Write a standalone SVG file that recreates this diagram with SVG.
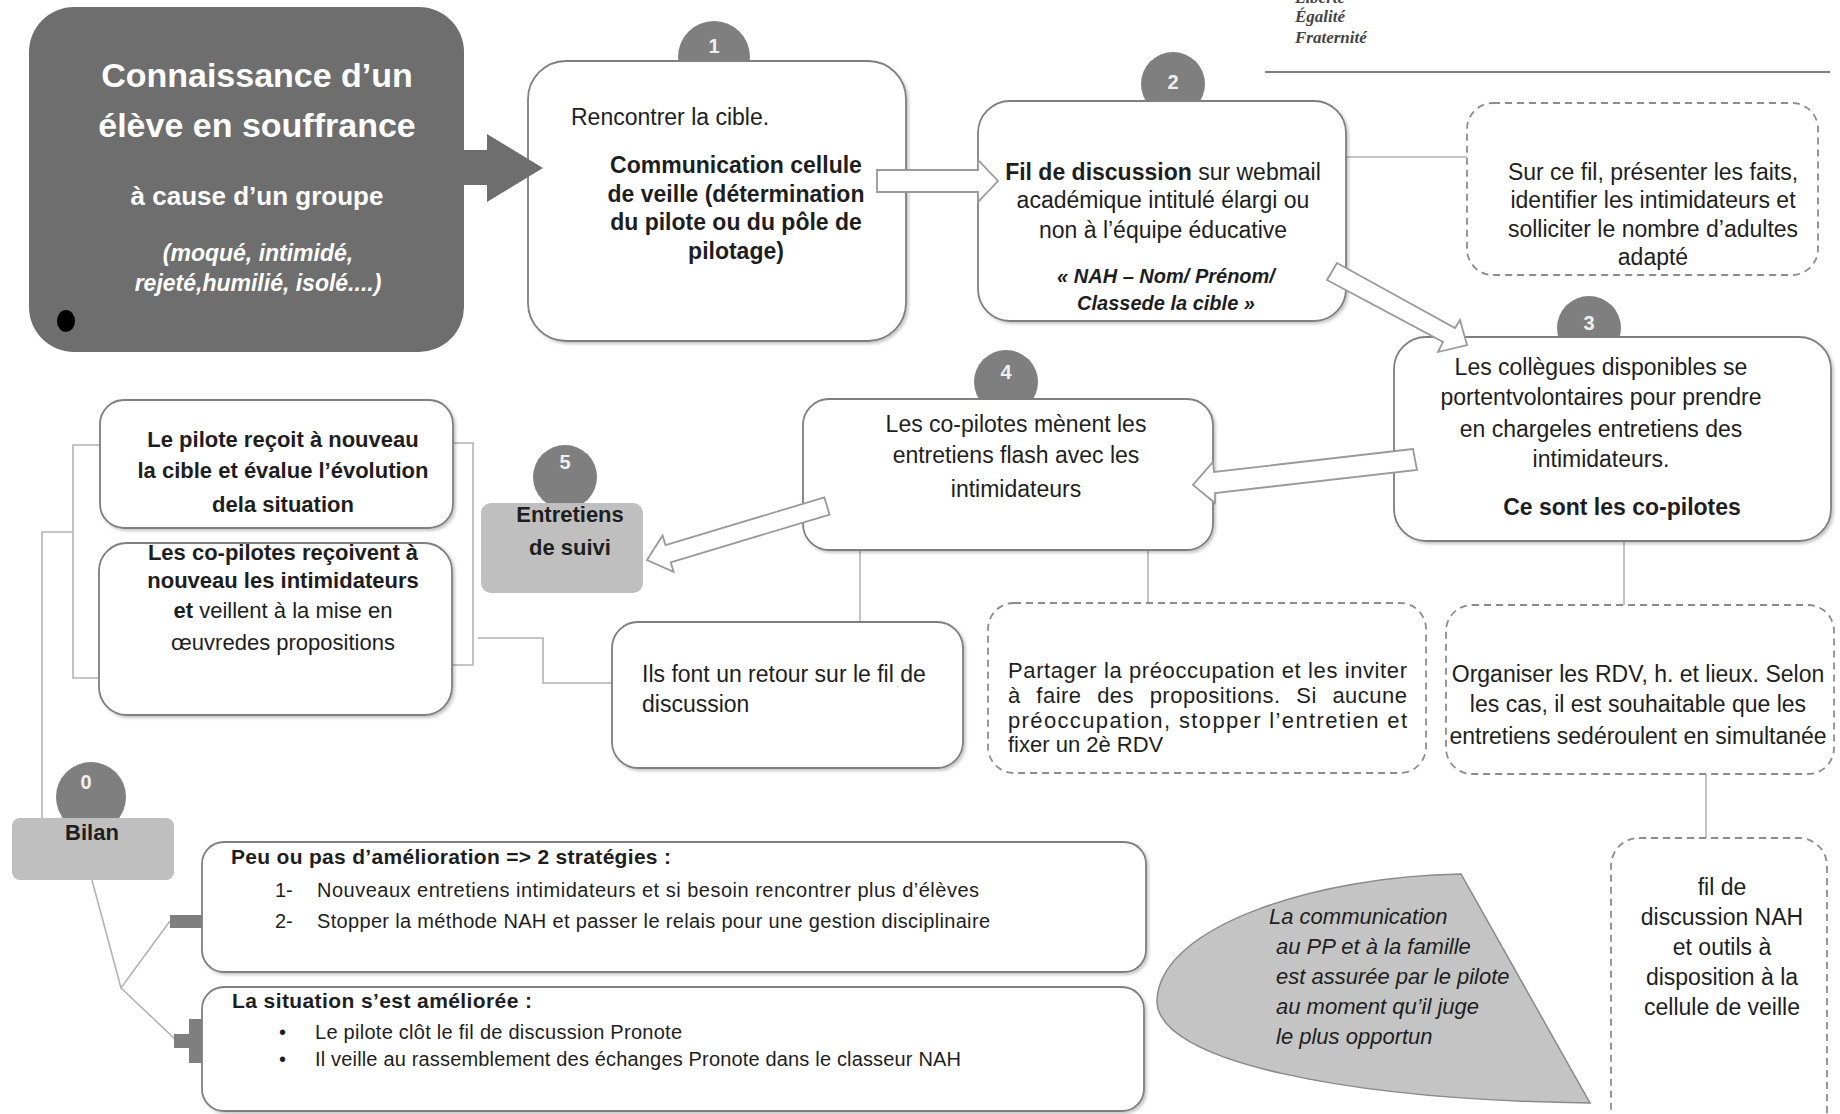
<svg xmlns="http://www.w3.org/2000/svg" width="1840" height="1114" viewBox="0 0 1840 1114">
<defs>
<style>
.t{font-family:"Liberation Sans",Arial,sans-serif;fill:#1e1e1e;font-size:23px}
.m{text-anchor:middle}
.b{font-weight:bold}
.i{font-style:italic}
.w{fill:#ffffff}
.box{fill:#ffffff;stroke:#7f7f7f;stroke-width:1.8}
.dash{fill:#ffffff;stroke:#8c8c8c;stroke-width:1.8;stroke-dasharray:7 5}
.grey{fill:#bfbfbf}
.num{fill:#7f7f7f}
.nt{font-family:"Liberation Sans",Arial,sans-serif;font-size:20px;font-weight:bold;fill:#f0f0f0;text-anchor:middle}
.ln{fill:none;stroke:#b3b3b3;stroke-width:1.6}
.arr{fill:#ffffff;stroke:#9a9a9a;stroke-width:1.8;stroke-linejoin:miter}
.logo{font-family:"Liberation Serif","Times New Roman",serif;font-style:italic;font-weight:bold;font-size:17px;fill:#444444}
</style>
<filter id="sh" x="-5%" y="-5%" width="115%" height="115%">
<feDropShadow dx="2" dy="2" stdDeviation="1.5" flood-color="#000000" flood-opacity="0.22"/>
</filter>
</defs>
<rect width="1840" height="1114" fill="#ffffff"/>

<g id="logo">
<text class="logo" x="1295" y="3">Liberté</text>
<text class="logo" x="1295" y="22">Égalité</text>
<text class="logo" x="1295" y="43">Fraternité</text>
<line x1="1265" y1="72" x2="1830" y2="72" stroke="#555555" stroke-width="1.6"/>
</g>

<g id="connectors">
<line class="ln" x1="1346" y1="157" x2="1467" y2="157"/>
<line class="ln" x1="1624" y1="541" x2="1624" y2="605"/>
<line class="ln" x1="1148" y1="550" x2="1148" y2="603"/>
<line class="ln" x1="860" y1="550" x2="860" y2="622"/>
<line class="ln" x1="1706" y1="774" x2="1706" y2="838"/>
<path class="ln" d="M478,638 H543 V683 H612"/>
<path class="ln" d="M453,443 H473 V665 H452"/>
<path class="ln" d="M100,445 H73 V678 H102"/>
<path class="ln" d="M42,818 V532 H73"/>
<path class="ln" d="M92,880 L121,988 L170,921 M121,988 L176,1040"/>
</g>

<g id="node-start">
<rect x="29" y="7" width="435" height="345" rx="45" fill="#6e6e6e"/>
<text class="t b m w" x="257" y="87" style="font-size:34px">Connaissance d’un</text>
<text class="t b m w" x="257" y="137" style="font-size:34px">élève en souffrance</text>
<text class="t b m w" x="257" y="205" style="font-size:26px">à cause d’un groupe</text>
<text class="t b i m w" x="258" y="261" style="font-size:23px">(moqué, intimidé,</text>
<text class="t b i m w" x="258" y="291" style="font-size:23px">rejeté,humilié, isolé....)</text>
<ellipse cx="66" cy="321" rx="9" ry="11" fill="#000000"/>
</g>

<g id="node-1">
<circle class="num" cx="714" cy="57" r="36"/>
<text class="nt" x="714" y="53">1</text>
<rect class="box" x="528" y="61" width="378" height="280" rx="38" filter="url(#sh)"/>
<text class="t" x="571" y="125">Rencontrer la cible.</text>
<text class="t b m" x="736" y="173">Communication cellule</text>
<text class="t b m" x="736" y="202">de veille (détermination</text>
<text class="t b m" x="736" y="230">du pilote ou du pôle de</text>
<text class="t b m" x="736" y="259">pilotage)</text>
</g>

<g id="node-2">
<circle class="num" cx="1173" cy="84" r="32"/>
<text class="nt" x="1173" y="89">2</text>
<rect class="box" x="978" y="101" width="368" height="220" rx="32" filter="url(#sh)"/>
<text class="t m" x="1163" y="180"><tspan font-weight="bold">Fil de discussion</tspan> sur webmail</text>
<text class="t m" x="1163" y="208">académique intitulé élargi ou</text>
<text class="t m" x="1163" y="238">non à l’équipe éducative</text>
<text class="t b i m" x="1166" y="283" style="font-size:20px">« NAH – Nom/ Prénom/</text>
<text class="t b i m" x="1166" y="310" style="font-size:20px">Classede la cible »</text>
</g>

<g id="node-2-note">
<rect class="dash" x="1467" y="103" width="351" height="172" rx="26"/>
<text class="t m" x="1653" y="180">Sur ce fil, présenter les faits,</text>
<text class="t m" x="1653" y="208">identifier les intimidateurs et</text>
<text class="t m" x="1653" y="237">solliciter le nombre d’adultes</text>
<text class="t m" x="1653" y="265">adapté</text>
</g>

<g id="node-3">
<circle class="num" cx="1589" cy="328" r="32"/>
<text class="nt" x="1589" y="330">3</text>
<rect class="box" x="1394" y="337" width="437" height="204" rx="32" filter="url(#sh)"/>
<text class="t m" x="1601" y="375">Les collègues disponibles se</text>
<text class="t m" x="1601" y="405">portentvolontaires pour prendre</text>
<text class="t m" x="1601" y="437">en chargeles entretiens des</text>
<text class="t m" x="1601" y="467">intimidateurs.</text>
<text class="t b m" x="1622" y="515">Ce sont les co-pilotes</text>
</g>

<g id="node-3-note">
<rect class="dash" x="1446" y="605" width="388" height="169" rx="26"/>
<text class="t m" x="1638" y="682">Organiser les RDV, h. et lieux. Selon</text>
<text class="t m" x="1638" y="712">les cas, il est souhaitable que les</text>
<text class="t m" x="1638" y="744">entretiens sedéroulent en simultanée</text>
</g>

<g id="node-3-tools">
<rect class="dash" x="1611" y="838" width="216" height="300" rx="28"/>
<text class="t m" x="1722" y="895">fil de</text>
<text class="t m" x="1722" y="925">discussion NAH</text>
<text class="t m" x="1722" y="955">et outils à</text>
<text class="t m" x="1722" y="985">disposition à la</text>
<text class="t m" x="1722" y="1015">cellule de veille</text>
</g>

<g id="node-4">
<circle class="num" cx="1006" cy="382" r="32"/>
<text class="nt" x="1006" y="379">4</text>
<rect class="box" x="803" y="399" width="410" height="151" rx="26" filter="url(#sh)"/>
<text class="t m" x="1016" y="432">Les co-pilotes mènent les</text>
<text class="t m" x="1016" y="463">entretiens flash avec les</text>
<text class="t m" x="1016" y="497">intimidateurs</text>
</g>

<g id="node-4-note">
<rect class="dash" x="988" y="603" width="438" height="170" rx="26"/>
<text class="t" x="1008" y="678" style="font-size:22px" textLength="399" lengthAdjust="spacing">Partager la préoccupation et les inviter</text>
<text class="t" x="1008" y="703" style="font-size:22px;word-spacing:9px" textLength="399" lengthAdjust="spacing">à faire des propositions. Si aucune</text>
<text class="t" x="1008" y="728" style="font-size:22px" textLength="399" lengthAdjust="spacing">préoccupation, stopper l’entretien et</text>
<text class="t" x="1008" y="752" style="font-size:22px">fixer un 2è RDV</text>
</g>

<g id="node-4-feedback">
<rect class="box" x="612" y="622" width="351" height="146" rx="26" filter="url(#sh)"/>
<text class="t" x="642" y="682">Ils font un retour sur le fil de</text>
<text class="t" x="642" y="712">discussion</text>
</g>

<g id="node-5">
<circle class="num" cx="565" cy="477" r="32"/>
<text class="nt" x="565" y="469">5</text>
<rect class="grey" x="481" y="503" width="162" height="90" rx="10"/>
<text class="t b m" x="570" y="522" style="font-size:22px">Entretiens</text>
<text class="t b m" x="570" y="555" style="font-size:22px">de suivi</text>
</g>

<g id="node-5a">
<rect class="box" x="100" y="400" width="353" height="128" rx="24" filter="url(#sh)"/>
<text class="t b m" x="283" y="447" style="font-size:22px">Le pilote reçoit à nouveau</text>
<text class="t b m" x="283" y="478" style="font-size:22px">la cible et évalue l’évolution</text>
<text class="t b m" x="283" y="512" style="font-size:22px">dela situation</text>
</g>

<g id="node-5b">
<rect class="box" x="99" y="543" width="353" height="172" rx="28" filter="url(#sh)"/>
<text class="t b m" x="283" y="560" style="font-size:22px">Les co-pilotes reçoivent à</text>
<text class="t b m" x="283" y="588" style="font-size:22px">nouveau les intimidateurs</text>
<text class="t m" x="283" y="618" style="font-size:22px"><tspan font-weight="bold">et</tspan> veillent à la mise en</text>
<text class="t m" x="283" y="650" style="font-size:22px">œuvredes propositions</text>
</g>

<g id="node-0">
<circle class="num" cx="91" cy="797" r="35"/>
<text class="nt" x="86" y="789">0</text>
<rect class="grey" x="12" y="818" width="162" height="62" rx="8"/>
<text class="t b m" x="92" y="840" style="font-size:22px">Bilan</text>
</g>

<g id="node-minus">
<rect x="170" y="915" width="44" height="13" fill="#7f7f7f"/>
<rect class="box" x="202" y="842" width="944" height="130" rx="22" filter="url(#sh)"/>
<text class="t b" x="231" y="864" style="font-size:21px" textLength="440" lengthAdjust="spacing">Peu ou pas d’amélioration =&gt; 2 stratégies :</text>
<text class="t" x="275" y="897" style="font-size:20px">1-</text>
<text class="t" x="317" y="897" style="font-size:20px" textLength="662" lengthAdjust="spacing">Nouveaux entretiens intimidateurs et si besoin rencontrer plus d’élèves</text>
<text class="t" x="275" y="928" style="font-size:20px">2-</text>
<text class="t" x="317" y="928" style="font-size:20px" textLength="673" lengthAdjust="spacing">Stopper la méthode NAH et passer le relais pour une gestion disciplinaire</text>
</g>

<g id="node-plus">
<rect x="174" y="1034" width="44" height="14" fill="#7f7f7f"/>
<rect x="189" y="1019" width="14" height="44" fill="#7f7f7f"/>
<rect class="box" x="202" y="987" width="942" height="124" rx="22" filter="url(#sh)"/>
<text class="t b" x="232" y="1008" style="font-size:21px" textLength="300" lengthAdjust="spacing">La situation s’est améliorée :</text>
<text class="t" x="279" y="1039" style="font-size:20px">•</text>
<text class="t" x="315" y="1039" style="font-size:20px" textLength="367" lengthAdjust="spacing">Le pilote clôt le fil de discussion Pronote</text>
<text class="t" x="279" y="1066" style="font-size:20px">•</text>
<text class="t" x="315" y="1066" style="font-size:20px" textLength="646" lengthAdjust="spacing">Il veille au rassemblement des échanges Pronote dans le classeur NAH</text>
</g>

<g id="node-communication">
<path d="M1461,874 C1320,876 1160,925 1157,1000 C1155,1062 1350,1100 1590,1103 Z" fill="#c4c4c4" stroke="#8a8a8a" stroke-width="1.5"/>
<text class="t i" x="1269" y="924" style="font-size:22px">La communication</text>
<text class="t i" x="1276" y="954" style="font-size:22px">au PP et à la famille</text>
<text class="t i" x="1276" y="984" style="font-size:22px">est assurée par le pilote</text>
<text class="t i" x="1276" y="1014" style="font-size:22px">au moment qu’il juge</text>
<text class="t i" x="1276" y="1044" style="font-size:22px">le plus opportun</text>
</g>

<g id="arrows">
<polygon points="441,150 487,150 487,134 543,168 487,202 487,185 441,185" fill="#6e6e6e"/>
<polygon class="arr" points="877,170 978,170 978,160 998,181 978,202 978,192 877,192"/>
<polygon class="arr" points="1337,263 1455,328 1460,320 1467,345 1438,352 1443,342 1327,280"/>
<polygon class="arr" points="1413,449 1214,472 1213,462 1193,485 1215,503 1215,493 1417,470"/>
<polygon class="arr" points="824.4,497.4 665.5,545.1 662.6,535.5 647,560 673.6,571.9 670.7,562.3 829.6,514.6"/>
</g>
</svg>
